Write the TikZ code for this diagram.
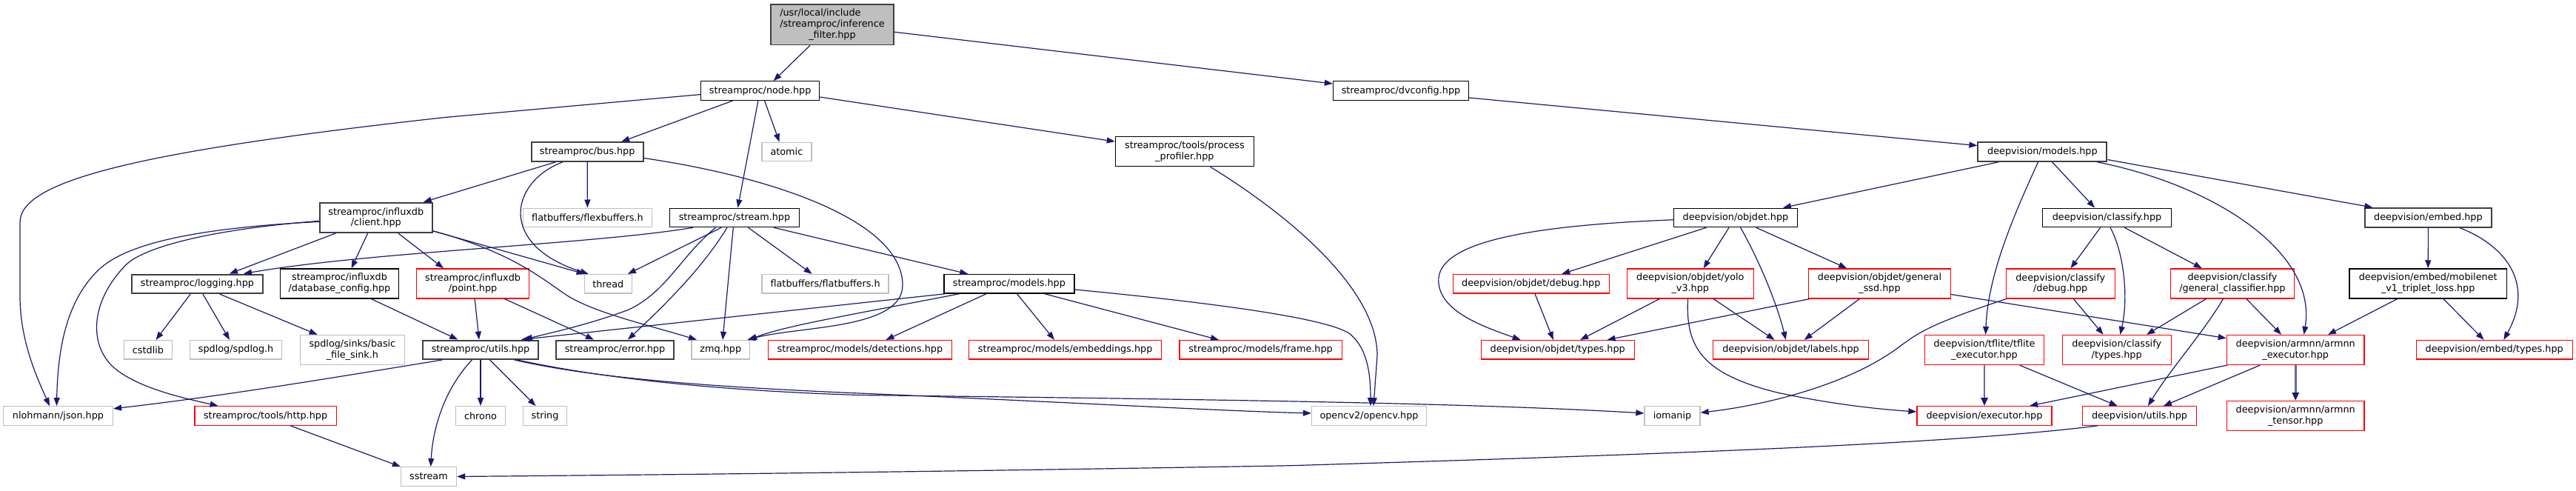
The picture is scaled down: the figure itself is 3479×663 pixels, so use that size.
\documentclass[tikz,border=0pt]{standalone}
\usepackage{fontspec}
\setmainfont{DejaVu Sans}
\usetikzlibrary{arrows.meta}
\definecolor{edgeblue}{HTML}{191970}
\definecolor{gborder}{HTML}{BFBFBF}
\definecolor{dgrey}{HTML}{404040}
\definecolor{rootfill}{HTML}{BFBFBF}
\definecolor{redb}{HTML}{FF0000}
\begin{document}
\begin{tikzpicture}[x=1pt,y=-1pt,
  box/.style={draw, rectangle, inner sep=0pt, align=center, fill=white,
    font=\fontsize{12.8}{14.8}\selectfont},
  doc/.style={box, draw=black, line width=1.3pt},
  docg/.style={box, draw=dgrey, line width=2pt},
  ext/.style={box, draw=gborder, line width=1.3pt},
  trunc/.style={box, draw=redb, line width=1.3pt},
  rootn/.style={box, draw=dgrey, line width=1.8pt, fill=rootfill},
  hA/.style={minimum height=25.5pt},
  hB/.style={minimum height=40pt},
  hC/.style={minimum height=54.5pt},
  edge/.style={draw=edgeblue, line width=1.2pt, -{Triangle[length=11pt,width=8pt]}},
  dbledge/.style={draw=edgeblue!65, line width=2.6pt,
    -{Triangle[length=11pt,width=9pt,color=edgeblue,fill=edgeblue]}}
]
\useasboundingbox (0,0) rectangle (3479,663);

% ---- nodes ----
\node[rootn, hC, minimum width=165.5pt] (root) at (1124,33.2)
  {\rlap{/usr/local/include}\phantom{/streamproc/inference}\\/streamproc/inference\\\_filter.hpp};
\node[doc, hA, minimum width=160pt] (node) at (1026.6,122.6) {streamproc/node.hpp};
\node[doc, hA, minimum width=183pt] (dvconfig) at (1892,122.6) {streamproc/dvconfig.hpp};
\node[docg, hA, minimum width=150.8pt] (bus) at (793.2,205.1) {streamproc/bus.hpp};
\node[ext, hA, minimum width=67pt] (atomic) at (1062.4,205.1) {atomic};
\node[doc, hB, minimum width=187pt] (profiler) at (1599.9,204.7) {streamproc/tools/process\\\_profiler.hpp};
\node[docg, hA, minimum width=174pt] (dvmodels) at (2758.4,205.1) {deepvision/models.hpp};
\node[docg, hB, minimum width=152pt] (client) at (507.8,293.9) {streamproc/influxdb\\/client.hpp};
\node[ext, hA, minimum width=174pt] (flexbuffers) at (793.4,293.9) {flatbuffers/flexbuffers.h};
\node[doc, hA, minimum width=175pt] (stream) at (992,293.9) {streamproc/stream.hpp};
\node[doc, hA, minimum width=167pt] (objdet) at (2344,293.9) {deepvision/objdet.hpp};
\node[doc, hA, minimum width=174pt] (classify) at (2845.5,293.9) {deepvision/classify.hpp};
\node[docg, hA, minimum width=171pt] (embed) at (3279.4,293.9) {deepvision/embed.hpp};
\node[docg, hA, minimum width=176.5pt] (logging) at (266.5,383.3) {streamproc/logging.hpp};
\node[doc, hB, minimum width=160pt] (dbconfig) at (458.5,382.9) {streamproc/influxdb\\/database\_config.hpp};
\node[trunc, hB, minimum width=152pt] (point) at (638.6,382.9) {streamproc/influxdb\\/point.hpp};
\node[ext, hA, minimum width=64pt] (thread) at (821.3,383.3) {thread};
\node[ext, hA, minimum width=171pt] (flatbuffers) at (1114.6,383.3) {flatbuffers/flatbuffers.h};
\node[doc, hA, minimum width=176pt] (spmodels) at (1362.9,383.3) {streamproc/models.hpp};
\node[trunc, hA, minimum width=211pt] (objdebug) at (2067.8,383.3) {deepvision/objdet/debug.hpp};
\node[trunc, hB, minimum width=171pt] (yolo) at (2282.8,382.9) {deepvision/objdet/yolo\\\_v3.hpp};
\node[trunc, hB, minimum width=191.4pt] (ssd) at (2538.5,382.9) {deepvision/objdet/general\\\_ssd.hpp};
\node[trunc, hB, minimum width=147pt] (cdebug) at (2782.7,382.9) {deepvision/classify\\/debug.hpp};
\node[trunc, hB, minimum width=167pt] (gclass) at (3014.9,382.9) {deepvision/classify\\/general\_classifier.hpp};
\node[doc, hB, minimum width=212.7pt] (mobilenet) at (3279.2,382.9) {deepvision/embed/mobilenet\\\_v1\_triplet\_loss.hpp};
\node[ext, hA, minimum width=65.5pt] (cstdlib) at (200,472.3) {cstdlib};
\node[ext, hA, minimum width=124.4pt] (spdlog) at (318.6,472.3) {spdlog/spdlog.h};
\node[ext, hB, minimum width=141pt] (filesink) at (475.9,472.5) {spdlog/sinks/basic\\\_file\_sink.h};
\node[docg, hA, minimum width=156pt] (utils) at (649,472.3) {streamproc/utils.hpp};
\node[docg, hA, minimum width=159pt] (error) at (830.5,472.3) {streamproc/error.hpp};
\node[ext, hA, minimum width=78.5pt] (zmq) at (973.3,472.3) {zmq.hpp};
\node[trunc, hA, minimum width=248pt] (detections) at (1161.4,472.3) {streamproc/models/detections.hpp};
\node[trunc, hA, minimum width=260pt] (embeddings) at (1438.6,472.3) {streamproc/models/embeddings.hpp};
\node[trunc, hA, minimum width=219.5pt] (frame) at (1702.6,472.3) {streamproc/models/frame.hpp};
\node[trunc, hA, minimum width=207pt] (otypes) at (2103.7,472.3) {deepvision/objdet/types.hpp};
\node[trunc, hA, minimum width=209.5pt] (labels) at (2418.5,472.3) {deepvision/objdet/labels.hpp};
\node[trunc, hB, minimum width=161.5pt] (tflite) at (2680,472.5) {deepvision/tflite/tflite\\\_executor.hpp};
\node[trunc, hB, minimum width=147pt] (ctypes) at (2858.7,472.5) {deepvision/classify\\/types.hpp};
\node[trunc, hB, minimum width=185.6pt] (armexec) at (3100.2,472.5) {deepvision/armnn/armnn\\\_executor.hpp};
\node[trunc, hA, minimum width=211pt] (etypes) at (3368.7,472.3) {deepvision/embed/types.hpp};
\node[ext, hA, minimum width=148pt] (json) at (78.5,561.5) {nlohmann/json.hpp};
\node[trunc, hA, minimum width=191.4pt] (http) at (358.6,561.5) {streamproc/tools/http.hpp};
\node[ext, hA, minimum width=67pt] (chrono) at (649,561.5) {chrono};
\node[ext, hA, minimum width=59pt] (string) at (736,561.5) {string};
\node[ext, hA, minimum width=155pt] (opencv) at (1849,561.5) {opencv2/opencv.hpp};
\node[ext, hA, minimum width=75pt] (iomanip) at (2258.5,561.5) {iomanip};
\node[trunc, hA, minimum width=182pt] (executor) at (2680,561.5) {deepvision/executor.hpp};
\node[trunc, hA, minimum width=154pt] (dvutils) at (2889.5,561.5) {deepvision/utils.hpp};
\node[trunc, hB, minimum width=185.6pt] (tensor) at (3100.2,561.7) {deepvision/armnn/armnn\\\_tensor.hpp};
\node[ext, hA, minimum width=75pt] (sstream) at (579,643.5) {sstream};

% ---- edges ----
\draw[edge] ([xshift=-30pt]root.south) -- ([xshift=18pt]node.north);
\draw[edge] ([yshift=-10pt]root.east) -- ([yshift=9.6pt]dvconfig.west);

\draw[edge] ([yshift=-5pt]node.west) -- (600,158.6) .. controls (180,205) and (27,245) .. (27,300)
  -- (27,400) .. controls (27,460) and (50,510) .. ([xshift=-11.5pt]json.north);
\draw[edge] ([xshift=-37pt]node.south) -- ([xshift=46pt]bus.north);
\draw[edge] ([xshift=6pt]node.south) -- ([xshift=-9.8pt]atomic.north);
\draw[edge] ([xshift=-2.7pt]node.south) -- ([xshift=4.4pt]stream.north);
\draw[edge] ([yshift=-8.4pt]node.east) -- ([yshift=13.6pt]profiler.west);

\draw[edge] ([yshift=-9.4pt]dvconfig.east) -- ([yshift=8.5pt]dvmodels.west);

\draw[edge] ([xshift=-43pt]bus.south) -- ([xshift=64pt]client.north);
\draw[edge] (bus) -- (flexbuffers);
\draw[edge] ([xshift=-33.3pt]bus.south) .. controls (690,245) and (670,330) .. ([xshift=6pt]thread.north west);
\draw[edge] ([yshift=-8.4pt]bus.east) .. controls (1050,240) and (1219,300) .. (1219,385)
  .. controls (1219,445) and (1080,440) .. ([xshift=-4pt]zmq.north east);

\draw[edge] ([yshift=-5.5pt]client.west) .. controls (260,308) and (170,330) .. (134,363.6)
  .. controls (90,405) and (78,470) .. ([xshift=-2pt]json.north);
\draw[edge] ([yshift=-4.5pt]client.west) .. controls (280,310) and (190,335) .. (168.4,359.4)
  .. controls (120,410) and (120,470) .. (157,499) .. controls (190,525) and (250,538) .. ([xshift=-64pt]http.north);
\draw[edge] ([xshift=-54.3pt]client.south) -- ([xshift=43.5pt]logging.north);
\draw[edge] ([xshift=-11.1pt]client.south) -- ([xshift=16.1pt]dbconfig.north);
\draw[edge] ([xshift=29.9pt]client.south) -- ([xshift=-39.6pt]point.north);
\draw[edge] ([yshift=3pt]client.south east) -- ([xshift=1pt]thread.north west);
\draw[edge] ([yshift=3pt]client.south east) .. controls (690,340) and (730,375) .. (763.7,397.5)
  .. controls (800,422) and (880,440) .. ([xshift=7.6pt]zmq.north west);

\draw[edge] ([xshift=-56pt]stream.south) .. controls (800,330) and (500,340) .. ([xshift=62.5pt]logging.north);
\draw[edge] ([xshift=-25.5pt]stream.south) .. controls (920,345) and (900,395) .. (848,418.6)
  .. controls (790,440) and (740,450) .. ([xshift=59pt]utils.north);
\draw[edge] ([xshift=-17.8pt]stream.south) -- ([xshift=26.6pt]thread.north);
\draw[edge] ([xshift=-10pt]stream.south) .. controls (950,360) and (900,410) .. ([xshift=17.4pt]error.north);
\draw[edge] ([xshift=-1.7pt]stream.south) -- ([xshift=2.7pt]zmq.north);
\draw[edge] ([xshift=18.5pt]stream.south) -- ([xshift=-18pt]flatbuffers.north);
\draw[edge] ([xshift=53pt]stream.south) -- ([xshift=-55.6pt]spmodels.north);

\draw[edge] ([xshift=2.6pt]point.south) -- ([xshift=-2pt]utils.north);
\draw[edge] ([xshift=42.8pt]point.south) -- ([xshift=-28.5pt]error.north);
\draw[edge] ([xshift=42.8pt]dbconfig.south) -- ([xshift=-30.7pt]utils.north);

\draw[edge] ([xshift=-9.3pt]logging.south) -- ([xshift=10.5pt]cstdlib.north);
\draw[edge] ([xshift=7.5pt]logging.south) -- ([xshift=-8.6pt]spdlog.north);
\draw[edge] ([xshift=30.1pt]logging.south) -- ([xshift=-47.3pt]filesink.north);

\draw[edge] ([xshift=-52pt]utils.south) .. controls (450,510) and (300,535) .. ([yshift=9.7pt]json.east);
\draw[edge] ([xshift=-11.6pt]utils.south) .. controls (605,520) and (585,570) .. ([xshift=2.7pt]sstream.north);
\draw[edge] (utils) -- (chrono);
\draw[edge] ([xshift=12.5pt]utils.south) -- ([xshift=-12.5pt]string.north);
\draw[edge] ([xshift=45.8pt]utils.south) .. controls (800,510) and (950,522) .. (1160,531)
  .. controls (1400,541) and (1650,555) .. ([yshift=3.5pt]opencv.west);
\draw[edge] ([xshift=50pt]utils.south) .. controls (810,510) and (960,527) .. (1160,533.5)
  .. controls (1700,540) and (2000,545) .. ([yshift=3.5pt]iomanip.west);

\draw[edge] ([xshift=-86pt]spmodels.south) -- ([xshift=55pt]utils.north);
\draw[edge] ([xshift=-67pt]spmodels.south) .. controls (1150,425) and (1060,440) .. ([xshift=-2pt]zmq.north east);
\draw[edge] ([xshift=-30.7pt]spmodels.south) -- ([xshift=35pt]detections.north);
\draw[edge] ([xshift=10.6pt]spmodels.south) -- ([xshift=-14.6pt]embeddings.north);
\draw[edge] ([xshift=47.8pt]spmodels.south) -- ([xshift=-56.6pt]frame.north);
\draw[edge] ([yshift=-7.7pt]spmodels.east) .. controls (1650,410) and (1790,430) .. (1822,450)
  .. controls (1845,468) and (1851,500) .. ([xshift=2pt]opencv.north);

\draw[edge] ([xshift=34.7pt]profiler.south) .. controls (1740,290) and (1860,390) .. (1860,480)
  -- ([xshift=6pt]opencv.north);

\draw[edge] ([xshift=-59.5pt]dvmodels.south) -- ([xshift=64pt]objdet.north);
\draw[edge] ([xshift=-5.9pt]dvmodels.south) .. controls (2720,290) and (2685,370) .. ([xshift=1.6pt]tflite.north);
\draw[edge] ([xshift=13.2pt]dvmodels.south) -- ([xshift=-16.5pt]classify.north);
\draw[edge] ([xshift=74pt]dvmodels.south) .. controls (2990,250) and (3130,340) .. ([xshift=11.3pt]armexec.north);
\draw[edge] ([yshift=-10.5pt]dvmodels.east) -- ([xshift=-75pt]embed.north);

\draw[edge] ([yshift=-2.9pt]objdet.west) .. controls (2050,305) and (1940,330) .. (1942.8,380.5)
  .. controls (1945,420) and (2000,440) .. ([xshift=-50pt]otypes.north);
\draw[edge] ([xshift=-39.5pt]objdet.south) -- ([xshift=41.5pt]objdebug.north);
\draw[edge] ([xshift=-9pt]objdet.south) -- ([xshift=17.8pt]yolo.north);
\draw[edge] ([xshift=6.6pt]objdet.south) .. controls (2375,350) and (2400,410) .. ([xshift=-6.7pt]labels.north);
\draw[edge] ([xshift=27.7pt]objdet.south) -- ([xshift=-44.4pt]ssd.north);

\draw[edge] ([xshift=5.2pt]objdebug.south) -- ([xshift=-5.9pt]otypes.north);
\draw[edge] ([xshift=-41.5pt]yolo.south) -- ([xshift=30.5pt]otypes.north);
\draw[edge] ([xshift=31.2pt]yolo.south) -- ([xshift=-22pt]labels.north);
\draw[edge] ([xshift=-3.2pt]yolo.south) .. controls (2276,470) and (2300,505) .. (2400,530)
  .. controls (2470,545) and (2530,552) .. ([yshift=5.5pt]executor.west);
\draw[edge] ([xshift=2pt]ssd.south west) -- ([xshift=66.8pt]otypes.north);
\draw[edge] ([xshift=-27.1pt]ssd.south) -- ([xshift=18.2pt]labels.north);
\draw[edge] ([yshift=-14.6pt]ssd.east) -- ([yshift=15.8pt]armexec.west);

\draw[edge] ([xshift=-8.9pt]classify.south) -- ([xshift=13.8pt]cdebug.north);
\draw[edge] ([xshift=4.5pt]classify.south) .. controls (2868,340) and (2875,400) .. ([xshift=4.7pt]ctypes.north);
\draw[edge] ([xshift=23.7pt]classify.south) -- ([xshift=-41.1pt]gclass.north);

\draw[edge] ([xshift=17.6pt]cdebug.south) -- ([xshift=-18.2pt]ctypes.north);
\draw[edge] ([xshift=1pt]cdebug.south west) .. controls (2600,440) and (2590,450) .. (2560,472)
  .. controls (2500,515) and (2400,545) .. ([yshift=4.2pt]iomanip.east);

\draw[edge] ([xshift=-35.4pt]gclass.south) -- ([xshift=40.3pt]ctypes.north);
\draw[edge] ([xshift=-12.4pt]gclass.south) .. controls (2975,450) and (2930,500) .. ([xshift=11.5pt]dvutils.north);
\draw[edge] ([xshift=18.9pt]gclass.south) -- ([xshift=-19.2pt]armexec.north);

\draw[dbledge] (tflite) -- (executor);
\draw[edge] ([xshift=47.6pt]tflite.south) -- ([xshift=-29.9pt]dvutils.north);
\draw[edge] ([xshift=1pt]armexec.south west) -- ([xshift=61pt]executor.north);
\draw[edge] ([xshift=-48pt]armexec.south) -- ([xshift=32.5pt]dvutils.north);
\draw[dbledge] (armexec) -- (tensor);

\draw[edge] ([xshift=-41.4pt]mobilenet.south) -- ([xshift=43.8pt]armexec.north);
\draw[edge] ([xshift=20.6pt]mobilenet.south) -- ([xshift=-14.1pt]etypes.north);
\draw[edge] (embed) -- (mobilenet);
\draw[edge] ([xshift=42.6pt]embed.south) .. controls (3380,330) and (3425,380) .. ([xshift=12.6pt]etypes.north);

\draw[edge] ([xshift=-56.7pt]dvutils.south) .. controls (2650,598) and (2300,612) .. (1740,628.8)
  .. controls (1200,638) and (900,641) .. (sstream.east);
\draw[edge] ([xshift=33.7pt]http.south) -- (sstream.north west);
\end{tikzpicture}
\end{document}
